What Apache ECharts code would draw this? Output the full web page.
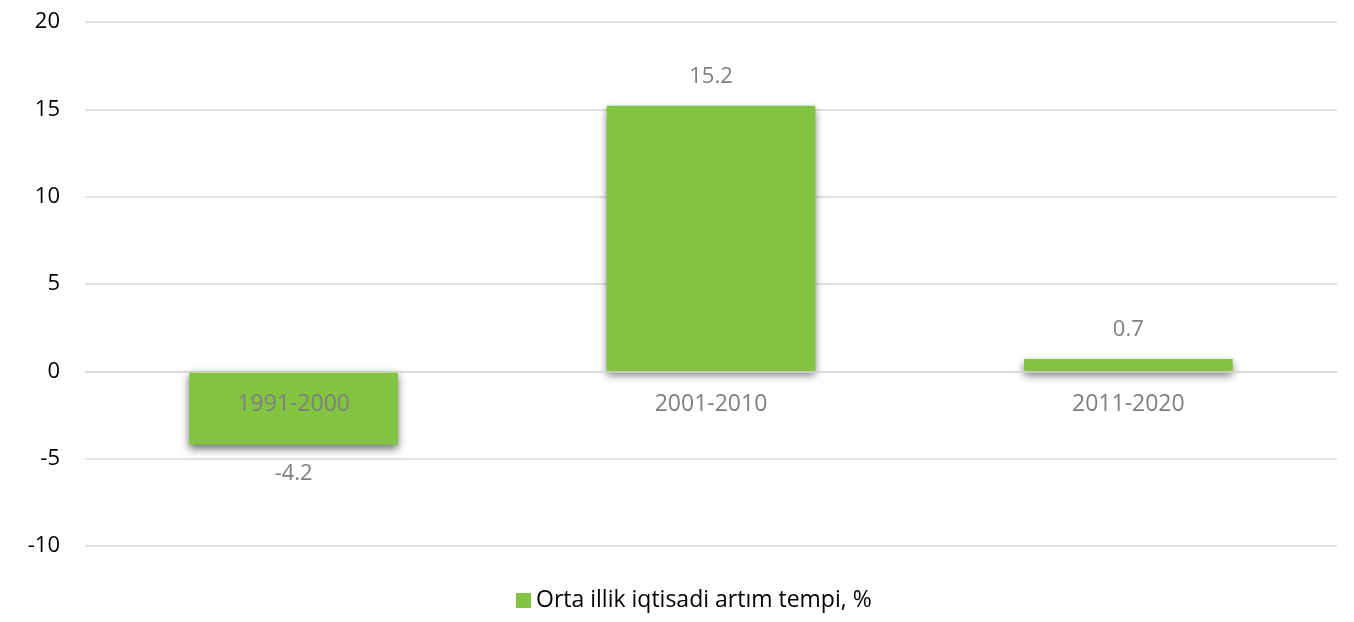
<!DOCTYPE html>
<html>
<head>
<meta charset="utf-8">
<script src="https://cdn.jsdelivr.net/npm/echarts@6/dist/echarts.min.js"></script>
<style>html,body{margin:0;padding:0;background:#fff}#c{width:1354px;height:622px}</style>
</head>
<body>
<div id="c"></div>
<script>
const categories = ['1991-2000', '2001-2010', '2011-2020'];
const values = [-4.2, 15.2, 0.7];
const seriesName = 'Orta illik iqtisadi artım tempi, %';
const yTicks = {min: -10, max: 20, interval: 5};

const W = 1354, H = 622;
const gridTop = 22, gridBottom = 76;
const plotH = H - gridTop - gridBottom;
const zeroOffset = -((0 - yTicks.min) / (yTicks.max - yTicks.min)) * plotH;

const chart = echarts.init(document.getElementById('c'));
const font = '"Open Sans", "Noto Sans", sans-serif';
chart.setOption({
  animation: false,
  textStyle: {fontFamily: font},
  grid: {left: 85, right: 17, top: gridTop, bottom: gridBottom},
  legend: {
    bottom: 5, left: 511,
    icon: 'rect', itemWidth: 15, itemHeight: 15, itemGap: 6,
    textStyle: {fontSize: 23, color: '#000', fontFamily: font},
    data: [seriesName]
  },
  xAxis: {
    type: 'category', data: categories,
    offset: zeroOffset, z: 10,
    axisLine: {show: true, onZero: false, lineStyle: {color: '#d9d9d9', width: 1.5}},
    axisTick: {show: false},
    axisLabel: {fontSize: 23, color: '#7f7f7f', margin: 22, fontFamily: font}
  },
  yAxis: {
    type: 'value', min: yTicks.min, max: yTicks.max, interval: yTicks.interval,
    axisLine: {show: false}, axisTick: {show: false},
    splitLine: {lineStyle: {color: '#d9d9d9', width: 1.5}},
    axisLabel: {fontSize: 22, color: '#000', margin: 25, fontFamily: font}
  },
  series: [{
    name: seriesName, type: 'bar', barWidth: '50%', z: 2,
    data: values.map(v => v < 0 ? {value: v, label: {position: 'bottom'}} : v),
    itemStyle: {
      color: '#82c341',
      shadowColor: 'rgba(0,0,0,0.55)', shadowBlur: 8, shadowOffsetY: 4
    },
    label: {
      show: true, fontSize: 22, color: '#7f7f7f', distance: 18, fontFamily: font,
      position: 'top',
      formatter: p => p.value.toFixed(1)
    }
  }]
});
</script>
</body>
</html>
